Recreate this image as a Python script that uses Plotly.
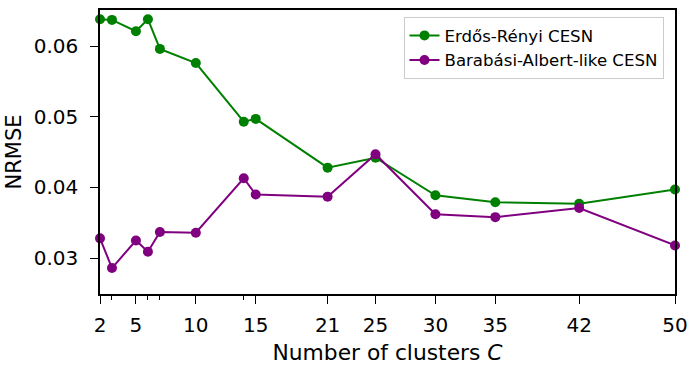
import plotly.graph_objects as go

clusters = [2, 3, 5, 6, 7, 10, 14, 15, 21, 25, 30, 35, 42, 50]
er_nrmse = [0.0638, 0.0637, 0.0621, 0.0638, 0.0596, 0.0576, 0.0493, 0.0497,
            0.0428, 0.0442, 0.0389, 0.0379, 0.0377, 0.0397]
ba_nrmse = [0.0328, 0.0286, 0.0325, 0.0309, 0.0337, 0.0336, 0.0413, 0.0390,
            0.0387, 0.0447, 0.0362, 0.0358, 0.0371, 0.0318]
major_ticks = [2, 5, 10, 15, 21, 25, 30, 35, 42, 50]
minor_ticks = [3, 6, 7, 14]
y_ticks = [0.03, 0.04, 0.05, 0.06]

fig = go.Figure()
fig.add_trace(go.Scatter(x=clusters, y=er_nrmse, mode="lines+markers",
                         name="Erdős-Rényi CESN",
                         line=dict(color="green", width=2),
                         marker=dict(color="green", size=10), cliponaxis=False))
fig.add_trace(go.Scatter(x=clusters, y=ba_nrmse, mode="lines+markers",
                         name="Barabási-Albert-like CESN",
                         line=dict(color="purple", width=2),
                         marker=dict(color="purple", size=10), cliponaxis=False))

font = "DejaVu Sans"
fig.update_layout(
    width=689, height=365,
    margin=dict(l=100, r=14, t=10, b=71),
    plot_bgcolor="white", paper_bgcolor="white",
    font=dict(family=font, size=20, color="black"),
    showlegend=True,
    legend=dict(x=0.98, y=0.975, xanchor="right", yanchor="top",
                bgcolor="rgba(255,255,255,0.8)", bordercolor="#cccccc", borderwidth=1,
                font=dict(family=font, size=16.6), tracegroupgap=0),
)
fig.update_xaxes(
    range=[2, 50], tickmode="array", tickvals=major_ticks,
    ticktext=[str(v) for v in major_ticks], automargin=False,
    ticklabeloverflow="allow",
    ticks="outside", ticklen=8, tickwidth=1.3, tickcolor="black",
    showline=True, linecolor="black", linewidth=1.5, mirror=True,
    showgrid=False, zeroline=False, ticklabelstandoff=4,
    tickfont=dict(size=20),
    minor=dict(tickmode="array", tickvals=minor_ticks, ticks="outside",
               ticklen=4, tickwidth=1, tickcolor="black", showgrid=False),
    title=dict(text="Number of clusters <i>C</i>", font=dict(size=21.8)),
)
fig.update_yaxes(
    range=[0.02493, 0.0651], tickmode="array", tickvals=y_ticks,
    ticktext=["0.03", "0.04", "0.05", "0.06"], automargin=False,
    ticks="outside", ticklen=8, tickwidth=1.3, tickcolor="black",
    showline=True, linecolor="black", linewidth=1.5, mirror=True,
    showgrid=False, zeroline=False, ticklabelstandoff=8,
    tickfont=dict(size=20),
    title=dict(text="NRMSE", font=dict(size=21), standoff=6),
)

fig.write_html("out.html")
